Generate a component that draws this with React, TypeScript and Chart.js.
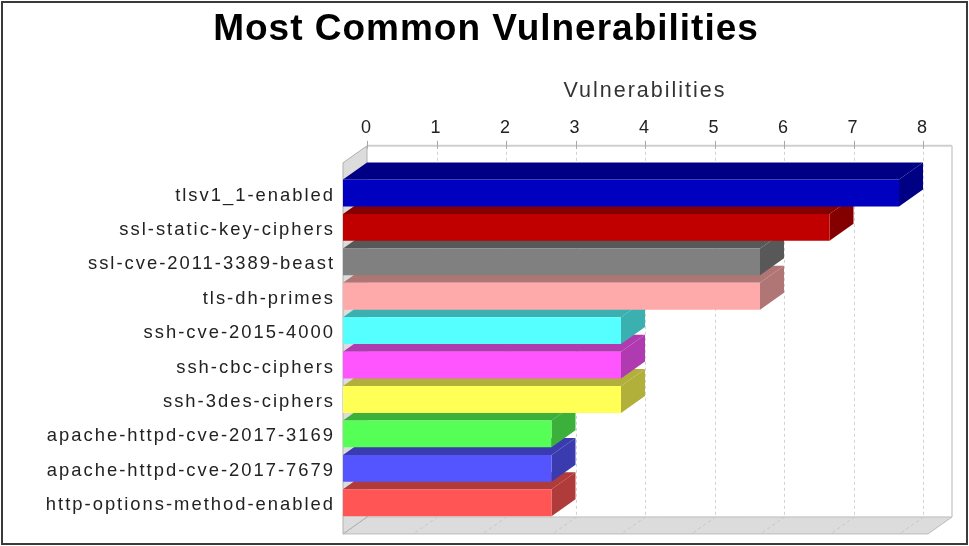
import { useEffect, useRef } from 'react';
import { Chart, registerables } from 'chart.js';

Chart.register(...registerables);

// Vulnerability names, top to bottom
const categories = [
  'tlsv1_1-enabled',
  'ssl-static-key-ciphers',
  'ssl-cve-2011-3389-beast',
  'tls-dh-primes',
  'ssh-cve-2015-4000',
  'ssh-cbc-ciphers',
  'ssh-3des-ciphers',
  'apache-httpd-cve-2017-3169',
  'apache-httpd-cve-2017-7679',
  'http-options-method-enabled',
];

// Number of hosts affected by each vulnerability
const counts = [8, 7, 6, 6, 4, 4, 4, 3, 3, 3];

// Front-face colour of each bar
const barColors = [
  '#0000c0',
  '#c00000',
  '#808080',
  '#ffaaaa',
  '#55ffff',
  '#ff55ff',
  '#ffff55',
  '#55ff55',
  '#5555ff',
  '#ff5555',
];

const axisMin = 0;
const axisMax = 8;
const axisStep = 1;

const FONT = "'Liberation Sans', Arial, Helvetica, sans-serif";

// 3D depth offset (back plane -> front plane)
const DX = 24;
const DY = 17;
const WALL_PAD_TOP = 13;
const WALL_PAD_BOTTOM = 14;
const WALL_EXTRA_RIGHT = 29;
const TITLE_SPACING = '1px';
const LABEL_SPACING = '2px';

function shade(hex: string, f: number): string {
  const n = parseInt(hex.slice(1), 16);
  const r = Math.round(((n >> 16) & 255) * f);
  const g = Math.round(((n >> 8) & 255) * f);
  const b = Math.round((n & 255) * f);
  return `rgb(${r},${g},${b})`;
}

function poly(ctx: CanvasRenderingContext2D, pts: number[][], fill: string, stroke?: string) {
  ctx.beginPath();
  ctx.moveTo(pts[0][0], pts[0][1]);
  for (let i = 1; i < pts.length; i++) ctx.lineTo(pts[i][0], pts[i][1]);
  ctx.closePath();
  ctx.fillStyle = fill;
  ctx.fill();
  if (stroke) {
    ctx.strokeStyle = stroke;
    ctx.lineWidth = 1;
    ctx.stroke();
  }
}

function seg(ctx: CanvasRenderingContext2D, x1: number, y1: number, x2: number, y2: number) {
  ctx.beginPath();
  ctx.moveTo(x1, y1);
  ctx.lineTo(x2, y2);
  ctx.stroke();
}

// Draws the box walls, the bar top/side faces, and shifts the flat bars to the front plane
const threeDPlugin = {
  id: 'threeD',
  beforeUpdate(chart: any) {
    chart.ctx.letterSpacing = LABEL_SPACING;
  },
  beforeDraw(chart: any) {
    const { ctx, width, height } = chart;
    ctx.save();
    ctx.fillStyle = '#ffffff';
    ctx.fillRect(0, 0, width, height);
    ctx.strokeStyle = '#3a3a3a';
    ctx.lineWidth = 2;
    ctx.strokeRect(2, 2, width - 4, height - 4);
    ctx.restore();
    // chart title is drawn before the datasets, the axes after them
    ctx.letterSpacing = TITLE_SPACING;
  },
  beforeDatasetsDraw(chart: any) {
    const { ctx, chartArea: a } = chart;
    const x = chart.scales.x;
    const top = a.top - WALL_PAD_TOP;
    const bottom = a.bottom + WALL_PAD_BOTTOM;
    const left = a.left;
    const right = a.right + WALL_EXTRA_RIGHT;

    ctx.save();

    // floor
    poly(
      ctx,
      [
        [left, bottom],
        [right, bottom],
        [right - DX, bottom + DY],
        [left - DX, bottom + DY],
      ],
      '#dcdcdc',
      '#bdbdbd'
    );

    // back wall grid lines and their continuation across the floor
    ctx.lineWidth = 1;
    ctx.setLineDash([3, 3]);
    for (const t of x.ticks) {
      const px = Math.round(x.getPixelForValue(t.value)) + 0.5;
      if (t.value !== axisMin) {
        ctx.strokeStyle = '#d2d2d2';
        seg(ctx, px, top, px, bottom);
      }
      ctx.strokeStyle = '#c6c6c6';
      seg(ctx, px, bottom, px - DX, bottom + DY);
    }
    ctx.setLineDash([]);

    // top edge (axis line) and right edge of the back wall
    ctx.strokeStyle = '#cfcfcf';
    ctx.lineWidth = 2;
    seg(ctx, left, top, right, top);
    ctx.lineWidth = 1.5;
    seg(ctx, right, top, right, bottom);

    // tick marks
    ctx.strokeStyle = '#a8a8a8';
    ctx.lineWidth = 1;
    for (const t of x.ticks) {
      const px = Math.round(x.getPixelForValue(t.value)) + 0.5;
      seg(ctx, px, top - 5, px, top + 3);
    }

    // left wall
    poly(
      ctx,
      [
        [left, top],
        [left, bottom],
        [left - DX, bottom + DY],
        [left - DX, top + DY],
      ],
      '#dcdcdc',
      '#b0b0b0'
    );

    // top and side faces, drawn from the lowest bar upwards
    const meta = chart.getDatasetMeta(0);
    for (let i = meta.data.length - 1; i >= 0; i--) {
      const bar = meta.data[i];
      const { x: bx, y: by, base, height } = bar.getProps(['x', 'y', 'base', 'height'], true);
      const yTop = by - height / 2;
      const yBot = by + height / 2;
      const face = shade(barColors[i], 0.69);
      poly(
        ctx,
        [
          [base, yTop],
          [bx, yTop],
          [bx - DX, yTop + DY],
          [base - DX, yTop + DY],
        ],
        face
      );
      poly(
        ctx,
        [
          [bx, yTop],
          [bx, yBot],
          [bx - DX, yBot + DY],
          [bx - DX, yTop + DY],
        ],
        face
      );
    }
    ctx.restore();

    // the flat bars become the front faces
    ctx.save();
    ctx.translate(-DX, DY);
  },
  afterDatasetsDraw(chart: any) {
    chart.ctx.restore();
    chart.ctx.letterSpacing = LABEL_SPACING;
  },
};

export default function App() {
  const ref = useRef<HTMLCanvasElement>(null);

  useEffect(() => {
    const chart = new Chart(ref.current as HTMLCanvasElement, {
      type: 'bar',
      data: {
        labels: categories,
        datasets: [
          {
            label: 'Vulnerabilities',
            data: counts,
            backgroundColor: barColors,
            borderWidth: 0,
            barPercentage: 0.78,
            categoryPercentage: 1,
            xAxisID: 'x',
            yAxisID: 'y',
          },
        ],
      },
      options: {
        indexAxis: 'y',
        responsive: false,
        animation: false,
        events: [],
        layout: { padding: { top: 8, left: 3, right: 0, bottom: 39.5 } },
        plugins: {
          legend: { display: false },
          tooltip: { enabled: false },
          title: {
            display: true,
            text: 'Most Common Vulnerabilities',
            color: '#000000',
            font: { family: FONT, size: 37, weight: 'bold' },
            padding: 0,
          },
        },
        scales: {
          x: {
            type: 'linear',
            position: 'top',
            min: axisMin,
            max: axisMax,
            grid: { display: false, drawTicks: false, z: 1 },
            border: { display: false, z: 1 },
            ticks: {
              z: 1,
              stepSize: axisStep,
              padding: 19.7,
              color: '#222222',
              font: { family: FONT, size: 18 },
            },
            title: {
              display: true,
              text: 'Vulnerabilities',
              color: '#333333',
              font: { family: FONT, size: 21.5 },
              padding: { top: 25.5, bottom: 0 },
            },
            afterFit: (s: any) => {
              s.height = 106.4;
            },
          },
          y: {
            type: 'category',
            position: 'left',
            grid: { display: false, drawTicks: false, z: 1 },
            border: { display: false, z: 1 },
            ticks: {
              z: 1,
              autoSkip: false,
              padding: 32,
              labelOffset: DY + 2.5,
              color: '#222222',
              font: { family: FONT, size: 18.4 },
            },
            afterFit: (s: any) => {
              s.width = 364;
            },
          },
          yRight: {
            type: 'category',
            position: 'right',
            grid: { display: false, drawTicks: false },
            border: { display: false },
            ticks: { display: false },
            afterFit: (s: any) => {
              s.width = 46;
            },
          },
        },
      } as any,
      plugins: [threeDPlugin],
    });
    return () => chart.destroy();
  }, []);

  return (
    <div style={{ position: 'absolute', left: 0, top: 0, width: 969, height: 546 }}>
      <canvas ref={ref} width={969} height={546} style={{ display: 'block' }} />
    </div>
  );
}
